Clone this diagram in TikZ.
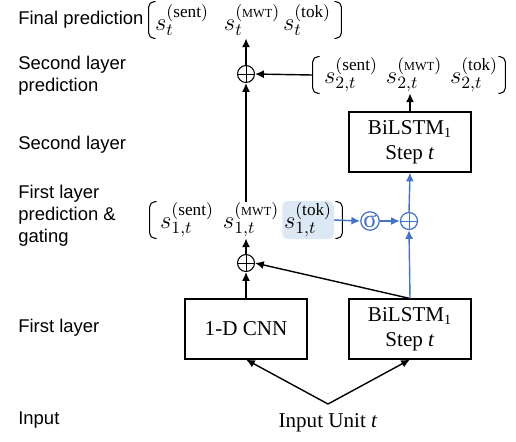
\RequirePackage{fix-cm}
\documentclass[tikz,border=0pt]{standalone}
\usepackage{fontspec}
\setmainfont{Liberation Serif}
\newfontfamily\lblfont{Liberation Sans}
\usetikzlibrary{arrows.meta}
\definecolor{gateblue}{RGB}{68,114,196}
\definecolor{tokfill}{RGB}{221,232,245}
\tikzset{
  lbl/.style={anchor=west, inner sep=0pt, align=left, font=\lblfont\fontsize{10.5}{12.6}\selectfont},
  unitbox/.style={draw, line width=0.6pt, minimum width=2.44cm, minimum height=1.2cm, align=center, font=\fontsize{12}{14.5}\selectfont},
  sumnode/.style={circle, draw, line width=0.6pt, minimum size=0.34cm, inner sep=0pt,
    path picture={\draw[line width=0.5pt] (path picture bounding box.north) -- (path picture bounding box.south)
      (path picture bounding box.west) -- (path picture bounding box.east);}},
  sigmanode/.style={circle, draw, line width=0.7pt, minimum size=0.34cm, inner sep=0pt, gateblue, font=\fontsize{14}{14}\selectfont},
  score/.style={inner sep=1pt, font=\fontsize{14}{16}\selectfont},
  brgroup/.style={minimum width=3.84cm, minimum height=0.72cm, inner sep=0pt},
  conn/.style={line width=0.8pt, -{Latex[length=5pt,width=4.5pt]}},
  gate/.style={conn, gateblue},
}
\newcommand{\scorebrackets}[1]{%
  \draw[line width=0.6pt, rounded corners=3pt] ([xshift=0.14cm]#1.north west) -| (#1.south west) -- ++(0.14cm,0);
  \draw[line width=0.6pt, rounded corners=3pt] ([xshift=-0.14cm]#1.north east) -| (#1.south east) -- ++(-0.14cm,0);}
\begin{document}
\begin{tikzpicture}[x=0.02cm, y=-0.02cm]
\useasboundingbox (0,0) rectangle (516,441);

\node[lbl] (lblfinal) at (18,20) {Final prediction};
\node[lbl] (lblsecpred) at (18,76) {Second layer\\prediction};
\node[lbl] (lblsec) at (18,145) {Second layer};
\node[lbl] (lblfirstpred) at (18,216) {First layer\\prediction \&\\gating};
\node[lbl] (lblfirst) at (18,328) {First layer};
\node[lbl] (lblinput) at (18,420) {Input};

\node[brgroup] (finalbr) at (245,20) {};
\node[score] (fsent) at (182,20) {$s_t^{(\mathrm{sent})}$};
\node[score] (fmwt) at (252,20) {$s_t^{(\mathrm{\scriptscriptstyle MWT})}$};
\node[score] (ftok) at (307,20) {$s_t^{(\mathrm{tok})}$};
\scorebrackets{finalbr}

\node[brgroup] (secbr) at (409,75) {};
\node[score] (ssent) at (351,75) {$s_{2,t}^{(\mathrm{sent})}$};
\node[score] (smwt) at (414,75) {$s_{2,t}^{(\mathrm{\scriptscriptstyle MWT})}$};
\node[score] (stok) at (474,75) {$s_{2,t}^{(\mathrm{tok})}$};
\scorebrackets{secbr}

\node[brgroup] (firstbr) at (246,220) {};
\node[score] (psent) at (187,220) {$s_{1,t}^{(\mathrm{sent})}$};
\node[score] (pmwt) at (251,220) {$s_{1,t}^{(\mathrm{\scriptscriptstyle MWT})}$};
\node[score, fill=tokfill, rounded corners=3pt, minimum width=0.94cm, minimum height=0.68cm] (ptok) at (308,220) {$s_{1,t}^{(\mathrm{tok})}$};
\scorebrackets{firstbr}

\node[sumnode] (sumtop) at (246,74) {};
\node[sumnode] (sumlow) at (246,263) {};
\node[sigmanode] (sig) at (370,221) {σ};
\node[sumnode, gateblue, line width=0.7pt] (gplus) at (409,221) {};

\node[unitbox] (lstmb) at (410,142) {BiLSTM\textsubscript{1}\\Step \textit{t}};
\node[unitbox] (cnn) at (246,329) {1-D CNN};
\node[unitbox] (lstma) at (410,329) {BiLSTM\textsubscript{1}\\Step \textit{t}};
\node[anchor=north, inner xsep=2pt, inner ysep=5pt, font=\fontsize{12}{14}\selectfont] (inp) at (328,404) {Input Unit \textit{t}};

\draw[conn] (inp.north) -- (cnn.south);
\draw[conn] (inp.north) -- (lstma.south);
\draw[conn] (cnn.north) -- (sumlow.south);
\draw[conn] (lstma.north) -- (sumlow.east);
\draw[conn] (sumlow.north) -- (sumlow |- firstbr.south);
\draw[conn] (sumlow |- firstbr.north) -- (sumtop.south);
\draw[conn] (sumtop.north) -- (sumtop |- finalbr.south);
\draw[conn] (secbr.west) -- (sumtop.east);
\draw[conn] (lstmb.north) -- (lstmb |- secbr.south);

\draw[gate] (ptok.east) -- (sig.west);
\draw[gate] (sig.east) -- (gplus.west);
\draw[gate] (lstma.north) -- (gplus.south);
\draw[gate] (gplus.north) -- (lstmb.south);

\end{tikzpicture}
\end{document}
